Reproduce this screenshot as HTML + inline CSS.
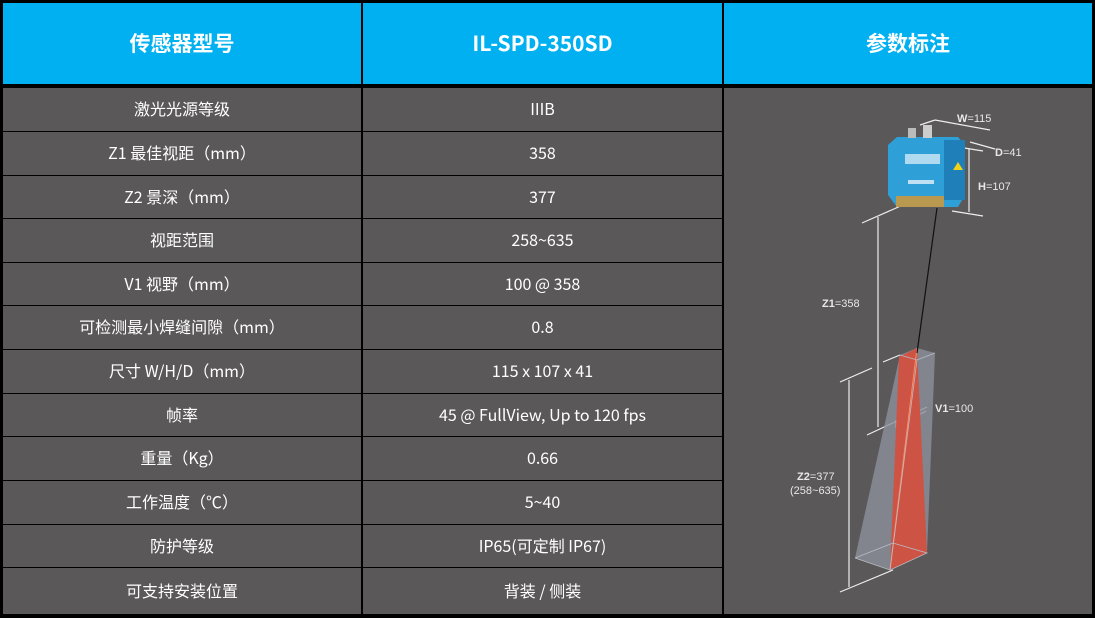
<!DOCTYPE html>
<html><head><meta charset="utf-8"><style>
body{margin:0;width:1095px;height:618px;background:#000;overflow:hidden;position:relative;font-family:"Liberation Sans","Noto Sans CJK SC",sans-serif;}
.c{position:absolute;background:#5a5859;color:#fff;font-size:16px;display:flex;align-items:center;justify-content:center;font-family:"Noto Sans CJK SC","Liberation Sans",sans-serif;box-sizing:border-box;padding-bottom:3px;}
.h{position:absolute;background:#00b0f0;color:#fff;font-size:21px;font-weight:bold;display:flex;align-items:center;justify-content:center;top:3px;height:81px;font-family:"Noto Sans CJK SC","Liberation Sans",sans-serif;box-sizing:border-box;padding-bottom:2px;}
svg{position:absolute;left:0;top:0}
</style></head><body>
<div class="h" style="left:3px;width:358px">传感器型号</div>
<div class="h" style="left:363px;width:359px">IL-SPD-350SD</div>
<div class="h" style="left:724px;width:368px">参数标注</div>
<div class="c" style="left:724px;top:88px;width:368px;height:526px"></div>
<div id="rows"></div>
<script>
var t=[88,132,176,219,263,306,350,394,437,481,525,568,614];
var d=[["激光光源等级","IIIB"],["Z1 最佳视距（mm）","358"],["Z2 景深（mm）","377"],["视距范围","258~635"],["V1 视野（mm）","100 @ 358"],["可检测最小焊缝间隙（mm）","0.8"],["尺寸 W/H/D（mm）","115 x 107 x 41"],["帧率","45 @ FullView, Up to 120 fps"],["重量（Kg）","0.66"],["工作温度（℃）","5~40"],["防护等级","IP65(可定制 IP67)"],["可支持安装位置","背装 / 侧装"]];
var h="";for(var i=0;i<12;i++){var y=t[i],hh=t[i+1]-t[i]-(i<11?1:0);
h+='<div class="c" style="left:3px;top:'+y+'px;width:358px;height:'+hh+'px">'+d[i][0]+'</div>';
h+='<div class="c" style="left:363px;top:'+y+'px;width:359px;height:'+hh+'px">'+d[i][1]+'</div>';}
document.getElementById("rows").innerHTML=h;
</script>
<svg width="1095" height="618">
<g fill="none" stroke="#eee" stroke-width="1.2">
<line x1="878" y1="217" x2="878" y2="427"/><line x1="862" y1="223" x2="903" y2="205"/><line x1="867" y1="435" x2="927" y2="407"/>
<line x1="849" y1="380" x2="849" y2="587"/><line x1="840" y1="382" x2="872" y2="368"/><line x1="840" y1="592" x2="893" y2="570"/>
<line x1="883" y1="362" x2="900" y2="355"/>
<line x1="969" y1="148" x2="969" y2="212"/><line x1="958" y1="147" x2="983" y2="151"/><line x1="952" y1="211" x2="983" y2="216"/>
<line x1="920" y1="125" x2="935" y2="120"/><line x1="935" y1="120" x2="990" y2="130"/><line x1="970" y1="142" x2="995" y2="149"/>
<line x1="896" y1="427" x2="926" y2="411"/><line x1="896" y1="420" x2="896" y2="428"/><line x1="918" y1="408" x2="918" y2="416"/>
</g>
<polygon points="855,558 900,355 917,348 935,353 927,553 890,570" fill="#8c919b" opacity="0.8"/>
<polygon points="899,357 917,348 927,553 890,570" fill="#cd5444"/>
<line x1="917" y1="348" x2="890" y2="570" stroke="#ff8a60" stroke-width="1"/>
<g fill="none" stroke="#b8bcc6" stroke-width="0.8"><polyline points="900,355 917,360 935,353"/><polyline points="855,558 890,570 927,553 893,543 855,558"/><line x1="917" y1="360" x2="890" y2="570"/></g>
<line x1="937" y1="208" x2="917" y2="353" stroke="#111" stroke-width="1.2"/>
<polygon points="897,137 958,137 965,145 965,195 958,207 897,207 888,195 888,145" fill="#2f9fd8"/>
<rect x="896" y="196" width="48" height="11" fill="#b8994f"/>
<rect x="944" y="140" width="21" height="60" fill="#1f7fb8"/>
<polygon points="953,170 958,162 963,170" fill="#f2d11a"/>
<rect x="908" y="128" width="8" height="10" fill="#bbb"/><rect x="923" y="125" width="9" height="13" fill="#ccc"/>
<rect x="905" y="154" width="35" height="10" fill="#e6f3fb" opacity="0.7"/><rect x="908" y="180" width="26" height="4" fill="#bfe0f2"/>
<g fill="#e8e8e8" font-size="11" font-family="Liberation Sans,sans-serif">
<text x="957" y="122"><tspan font-weight="bold">W</tspan>=115</text>
<text x="995" y="156"><tspan font-weight="bold">D</tspan>=41</text>
<text x="978" y="190"><tspan font-weight="bold">H</tspan>=107</text>
<text x="822" y="307"><tspan font-weight="bold">Z1</tspan>=358</text>
<text x="935" y="412"><tspan font-weight="bold">V1</tspan>=100</text>
<text x="797" y="480"><tspan font-weight="bold">Z2</tspan>=377</text>
<text x="790" y="494">(258~635)</text>
</g>
</svg>
</body></html>
